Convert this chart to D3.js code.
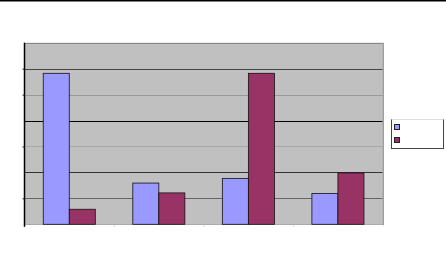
<!DOCTYPE html>
<html>
<head>
	<meta charset="utf-8">
	<title>Grouped bars</title>
</head>
<script src="https://d3js.org/d3.v7.min.js"></script>
<style>
	body { margin: 0; background: #fff; }
</style>
<body>

<div id="viz"></div>

<script>

// data (no labels shown in the original)
var categories = ["A", "B", "C", "D"];
var seriesNames = ["Series1", "Series2"];
var series1 = [5.82, 1.59, 1.77, 1.19];
var series2 = [0.58, 1.21, 5.82, 1.98];
var yTicks = [0, 1, 2, 3, 4, 5, 6, 7];

var colors = ["#9999ff", "#993366"];

var W = 446, H = 253;
var plot = {left: 24.5, right: 382.7, top: 42.7, bottom: 224.3};

var svg = d3.select("#viz")
	.append("svg")
		.attr("width", W)
		.attr("height", H);

// black rule along the top of the page
svg.append("line")
	.attr("x1", 0).attr("x2", W)
	.attr("y1", 0.75).attr("y2", 0.75)
	.attr("stroke", "#000")
	.attr("stroke-width", 1.5);

var x0 = d3.scaleBand()
	.domain(categories)
	.range([plot.left, plot.right])
	.paddingInner(0).paddingOuter(0);

var x1 = d3.scaleBand()
	.domain(seriesNames)
	.range([0, x0.bandwidth()])
	.paddingInner(0).paddingOuter(0.72);

var y = d3.scaleLinear()
	.domain([0, 7])
	.range([plot.bottom, plot.top]);

// plot background
svg.append("rect")
	.attr("x", plot.left)
	.attr("y", plot.top)
	.attr("width", plot.right - plot.left)
	.attr("height", plot.bottom - plot.top)
	.attr("fill", "#c0c0c0");

// gridlines - shades differ line to line like in the scanned original
var gridShade = ["#aaaaaa", "#666666", "#333333", "#a8a8a8", "#000000", "#999999", "#444444", "#888888"];
svg.append("g")
	.selectAll("line")
	.data(yTicks)
	.join("line")
		.attr("x1", plot.left)
		.attr("x2", plot.right)
		.attr("y1", function(d) { return Math.round(y(d)) + 0.5; })
		.attr("y2", function(d) { return Math.round(y(d)) + 0.5; })
		.attr("stroke", function(d, i) { return gridShade[i]; })
		.attr("stroke-width", 1);

// right border
svg.append("line")
	.attr("x1", plot.right + 0.5).attr("x2", plot.right + 0.5)
	.attr("y1", plot.top).attr("y2", plot.bottom + 1)
	.attr("stroke", "#999")
	.attr("stroke-width", 1.5);

// bars
var rows = categories.map(function(c, i) {
	return {cat: c, vals: [series1[i], series2[i]]};
});

var groups = svg.append("g")
	.selectAll("g")
	.data(rows)
	.join("g")
		.attr("transform", function(d) { return "translate(" + x0(d.cat) + ",0)"; });

groups.selectAll("rect")
	.data(function(d) { return d.vals.map(function(v, j) { return {s: seriesNames[j], v: v, j: j}; }); })
	.join("rect")
		.attr("x", function(d) { return x1(d.s); })
		.attr("y", function(d) { return y(d.v); })
		.attr("width", x1.bandwidth())
		.attr("height", function(d) { return y(0) - y(d.v); })
		.attr("fill", function(d) { return colors[d.j]; })
		.attr("stroke", "#111")
		.attr("stroke-width", 0.8);

// left axis, no labels visible in the original
var yAxis = svg.append("g")
	.attr("transform", "translate(" + plot.left + ",0)")
	.call(d3.axisLeft(y).tickValues([1, 3, 5, 6]).tickSize(2).tickFormat(""));
yAxis.select(".domain")
	.attr("d", "M0," + plot.top + "V" + (plot.bottom + 2.5))
	.attr("stroke", "#000")
	.attr("stroke-width", 1.5);
yAxis.selectAll(".tick line").attr("stroke", "#222");

// tiny category ticks under the axis
svg.append("g")
	.selectAll("line")
	.data(categories.slice(1))
	.join("line")
		.attr("x1", function(d) { return x0(d) + x0.bandwidth() / 2 * 0 + 0.5; })
		.attr("x2", function(d) { return x0(d) + 0.5; })
		.attr("y1", plot.bottom + 1)
		.attr("y2", plot.bottom + 2.5)
		.attr("stroke", "#ccc");

// legend (text not present in the original)
var legend = svg.append("g").attr("transform", "translate(391.5,119.5)");
legend.append("rect")
	.attr("width", 52).attr("height", 29)
	.attr("fill", "#fff")
	.attr("stroke", "#444")
	.attr("stroke-width", 1);
legend.append("line")
	.attr("x1", 0).attr("x2", 52).attr("y1", 0).attr("y2", 0)
	.attr("stroke", "#ddd");
legend.selectAll(".sw")
	.data(seriesNames)
	.join("rect")
		.attr("class", "sw")
		.attr("x", 3)
		.attr("y", function(d, i) { return 5 + i * 13; })
		.attr("width", 5)
		.attr("height", 5)
		.attr("fill", function(d, i) { return colors[i]; })
		.attr("stroke", "#222")
		.attr("stroke-width", 1);

</script>

</body>
</html>
